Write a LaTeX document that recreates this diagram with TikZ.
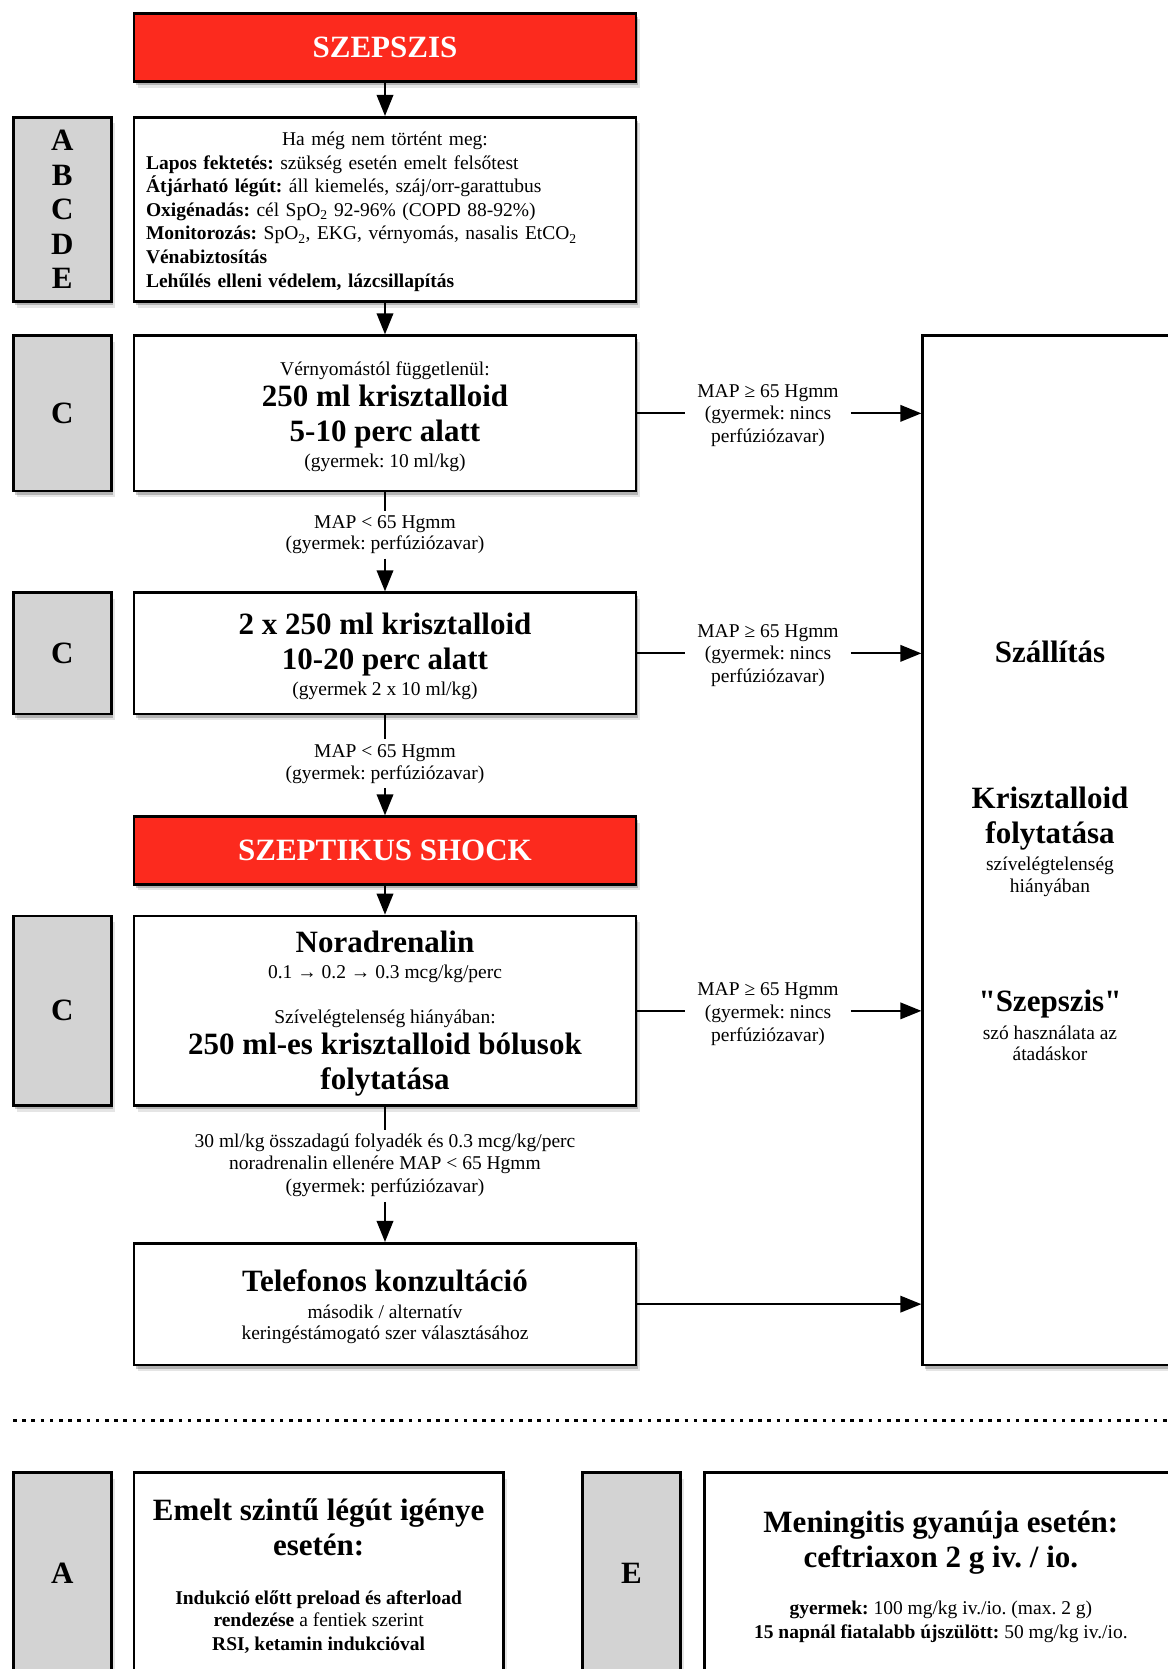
\documentclass[tikz,border=0pt]{standalone}
\usepackage{fontspec}
\setmainfont{Liberation Serif}[Ligatures=TeXOff]
\usetikzlibrary{arrows.meta,shadows}
\definecolor{sred}{RGB}{252,42,30}
\definecolor{sgrey}{RGB}{211,211,211}
\newcommand\fsm{\fontsize{19.5}{20}\selectfont\frenchspacing\lineskiplimit=-1000pt\relax}
\newcommand\fbg{\fontsize{31}{20}\selectfont\bfseries}
\newcommand\fbgn{\fontsize{31}{20}\selectfont\bfseries\frenchspacing\lineskiplimit=-1000pt\relax}
\tikzset{
  shd/.style={drop shadow={shadow xshift=3.5pt,shadow yshift=-6pt,fill=black,opacity=.10},
              drop shadow={shadow xshift=2pt,shadow yshift=-3.5pt,fill=black,opacity=.22}},
  box/.style={shd,draw=black,line width=2.7pt,fill=white,minimum width=502pt,inner sep=0pt},
  gbox/.style={shd,draw=black,line width=2.7pt,fill=sgrey,minimum width=98pt,inner sep=0pt,align=center,font=\fbgn},
  redbox/.style={shd,draw=black,line width=2.7pt,fill=sred,text=white,minimum width=502pt,inner sep=0pt,font=\fbgn},
  lab/.style={align=center,font=\fsm,inner xsep=12pt,inner ysep=4.5pt},
  plain/.style={align=center,font=\fsm,inner sep=0pt},
  ln/.style={line width=2pt},
  arr/.style={line width=2pt,-{Triangle[length=21pt,width=16.5pt]}},
  dotl/.style={line width=3pt,dash pattern=on 3.5pt off 5.7pt}
}
\begin{document}
\begin{tikzpicture}[x=1pt,y=-1pt]
\useasboundingbox (0,0) rectangle (1167,1669);
% top
\node[redbox,minimum height=68.4pt] (sz) at (385,47.5) {SZEPSZIS};
\node[gbox,minimum height=184.4pt] (g0) at (62.3,209.5) {A\\[14.6pt]B\\[14.6pt]C\\[14.6pt]D\\[14.6pt]E};
\node[box,minimum height=184.4pt] (t0) at (385,209.5) {};
\node[plain,text width=478pt,align=left,font=\fontsize{19.5}{23.65}\selectfont\frenchspacing] (t0t) at ([yshift=-2.1pt]t0.center) {\makebox[478pt]{Ha még nem történt meg:}\\
\textbf{Lapos fektetés:} szükség esetén emelt felsőtest\\
\textbf{Átjárható légút:} áll kiemelés, száj/orr-garattubus\\
\textbf{Oxigénadás:} cél SpO\textsubscript{2} 92-96\% (COPD 88-92\%)\\
\textbf{Monitorozás:} SpO\textsubscript{2}, EKG, vérnyomás, nasalis EtCO\textsubscript{2}\\
\textbf{Vénabiztosítás}\\
\textbf{Lehűlés elleni védelem, lázcsillapítás}};
% C1
\node[gbox,minimum height=155.3pt] (g1) at (62.3,413.35) {C};
\node[box,minimum height=155.3pt] (c1) at (385,413.35) {};
\node[plain] (c1t) at ([yshift=-3.2pt]c1.center) {Vérnyomástól függetlenül:\\[11.7pt]{\fbg 250 ml krisztalloid}\\[14.3pt]{\fbg 5-10 perc alatt}\\[6.4pt](gyermek: 10 ml/kg)};
\node[lab] (l1) at (385,534.9) {MAP < 65 Hgmm\\[1pt](gyermek: perfúziózavar)};
% C2
\node[gbox,minimum height=121.3pt] (g2) at (62.3,653.35) {C};
\node[box,minimum height=121.3pt] (c2) at (385,653.35) {};
\node[plain] (c2t) at ([yshift=-3.2pt]c2.center) {{\fbg 2 x 250 ml krisztalloid}\\[15pt]{\fbg 10-20 perc alatt}\\[5.7pt](gyermek 2 x 10 ml/kg)};
\node[lab] (l2) at (385,763.9) {MAP < 65 Hgmm\\[2.3pt](gyermek: perfúziózavar)};
% shock
\node[redbox,minimum height=67.6pt] (shock) at (385,850.5) {SZEPTIKUS SHOCK};
% C3
\node[gbox,minimum height=189.7pt] (g3) at (62.3,1010.85) {C};
\node[box,minimum height=189.7pt] (c3) at (385,1010.85) {};
\node[plain] (c3t) at ([yshift=-2.7pt]c3.center) {{\fbg Noradrenalin}\\[6.7pt]0.1 → 0.2 → 0.3 mcg/kg/perc\\[25pt]Szívelégtelenség hiányában:\\[11pt]{\fbg 250 ml-es krisztalloid bólusok}\\[15pt]{\fbg folytatása}};
\node[lab] (l3) at (385,1165.7) {30 ml/kg összadagú folyadék és 0.3 mcg/kg/perc\\[1.6pt]noradrenalin ellenére MAP < 65 Hgmm\\[3.4pt](gyermek: perfúziózavar)};
% telefonos
\node[box,minimum height=121.7pt] (tel) at (385,1304.15) {};
\node[plain] (telt) at ([yshift=-2.7pt]tel.center) {{\fbg Telefonos konzultáció}\\[6.7pt]második / alternatív\\[1.7pt]keringéstámogató szer választásához};
% right box
\node[shd,draw=black,line width=2.7pt,fill=white,minimum width=255.3pt,minimum height=1029.3pt,inner sep=0pt] (szall) at (1050.35,850.35) {};
\node[plain,font=\fbgn] (sz1) at (1050,652) {Szállítás};
\node[plain] (sz2) at (1050,841.8) {{\fbg Krisztalloid}\\[15pt]{\fbg folytatása}\\[6.6pt]szívelégtelenség\\[2.4pt]hiányában};
\node[plain] (sz3) at (1050,1025.1) {{\fbg "Szepszis"}\\[8.3pt]szó használata az\\[1pt]átadáskor};
% right labels
\node[lab] (r1) at (768,415.5) {MAP ≥ 65 Hgmm\\[2.8pt](gyermek: nincs\\[2.8pt]perfúziózavar)};
\node[lab] (r2) at (768,655.5) {MAP ≥ 65 Hgmm\\[2.8pt](gyermek: nincs\\[2.8pt]perfúziózavar)};
\node[lab] (r3) at (768,1013.9) {MAP ≥ 65 Hgmm\\[2.8pt](gyermek: nincs\\[2.8pt]perfúziózavar)};
% connectors
\draw[arr] (sz.south) -- (t0.north);
\draw[arr] (t0.south) -- (c1.north);
\draw[ln] (c1.south) -- (l1.north);
\draw[arr] (l1.south) -- (c2.north);
\draw[ln] (c2.south) -- (l2.north);
\draw[arr] (l2.south) -- (shock.north);
\draw[arr] (shock.south) -- (c3.north);
\draw[ln] (c3.south) -- (l3.north);
\draw[arr] (l3.south) -- (tel.north);
\draw[ln] (c1.east) -- (c1.east -| r1.west);
\draw[arr] (r1.east |- c1.east) -- (c1.east -| szall.west);
\draw[ln] (c2.east) -- (c2.east -| r2.west);
\draw[arr] (r2.east |- c2.east) -- (c2.east -| szall.west);
\draw[ln] (c3.east) -- (c3.east -| r3.west);
\draw[arr] (r3.east |- c3.east) -- (c3.east -| szall.west);
\draw[arr] (tel.east) -- (tel.east -| szall.west);
% separator
\coordinate (dl) at (13,1420.7);
\coordinate (dr) at (1170,1420.7);
\draw[dotl] (dl) -- (dr);
% bottom
\node[gbox,minimum height=201.6pt] (ga) at (62.3,1573.5) {A};
\node[box,minimum width=369.3pt,minimum height=201.6pt] (ta) at (318.65,1573.5) {};
\node[plain] (tat) at ([yshift=-2.5pt]ta.center) {{\fbg Emelt szintű légút igénye}\\[15pt]{\fbg esetén:}\\[28.4pt]\textbf{Indukció előtt preload és afterload}\\[2.6pt]\textbf{rendezése} a fentiek szerint\\[3.4pt]\textbf{RSI, ketamin indukcióval}};
\node[gbox,minimum height=201.6pt] (ge) at (631.35,1573.5) {E};
\node[box,minimum width=472.3pt,minimum height=201.6pt] (te) at (940.85,1573.5) {};
\node[plain] (tet) at ([yshift=-3.2pt]te.center) {{\fbg Meningitis gyanúja esetén:}\\[14.3pt]{\fbg ceftriaxon 2 g iv. / io.}\\[27.3pt]\textbf{gyermek:} 100 mg/kg iv./io. (max. 2 g)\\[3.7pt]\textbf{15 napnál fiatalabb újszülött:} 50 mg/kg iv./io.};
\end{tikzpicture}
\end{document}
